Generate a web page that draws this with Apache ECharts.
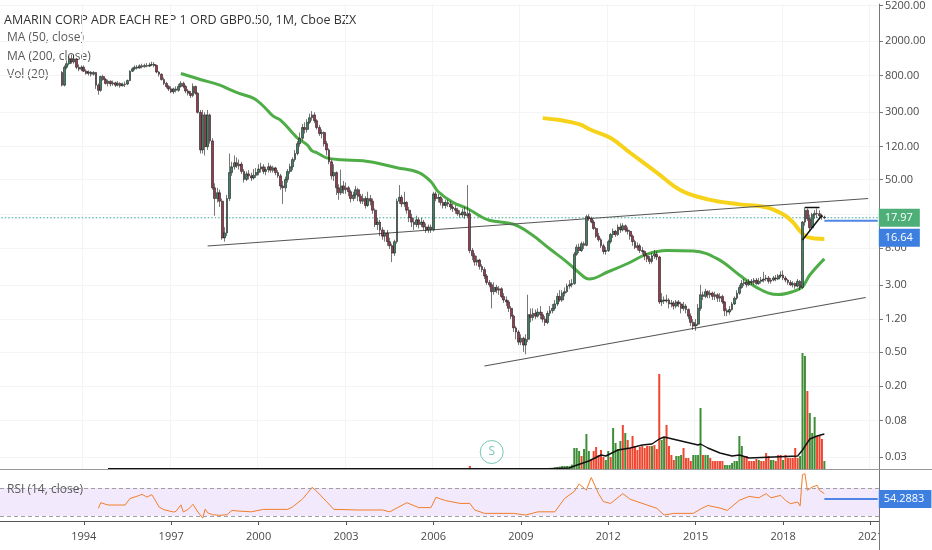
<!DOCTYPE html>
<html><head><meta charset="utf-8">
<script src="https://cdn.jsdelivr.net/npm/echarts@6/dist/echarts.min.js"></script>
<style>html,body{margin:0;padding:0;background:#fff}#c{width:932px;height:550px}</style>
</head><body><div id="c"></div>
<script>
// ---------- axis definitions ----------
const firstCategory = '1991-03';
const categoryCount = 362;            // monthly slots up to 2021-04
const candleStart = '1993-04';
const volumeStart = '2007-01';
const priceTicks = [5200, 2000, 800, 300, 120, 50, 20, 8, 3, 1.2, 0.5, 0.2, 0.08, 0.03];
const yearTicks = [1994, 1997, 2000, 2003, 2006, 2009, 2012, 2015, 2018, 2021];
const priceTop = 5396, priceBottom = 0.02194;
const rsiRange = [22.9, 97.1];

// ---------- monthly candles (Apr 1993 .. Jun 2019) ----------
const openPx = [
870,620,1000,1100,1250,1150,1250,1000,950,
1000,900,850,880,830,870,620,540,780,720,650,690,
640,660,620,650,610,630,640,700,900,960,1000,980,
1040,1010,1050,1030,1060,1080,1050,880,830,720,650,600,
560,520,560,540,600,650,600,530,500,470,600,500,
300,110,280,120,280,140,40,30,35,28,10.5,12,
30,60,70,78,72,75,62,50,58,55,52,56,
60,66,70,62,65,70,64,68,60,55,42,40,
50,62,70,85,100,130,150,200,190,230,260,280,
240,200,170,175,130,110,80,55,60,40,35,42,
38,40,36,30,33,38,32,28,30,25,30,28,
22,15,16,13,11,12,9.5,8.5,7.0,9.5,28,31,
26,27,22,18,16,15,17,15,16,14,13,14,
13,34,30,31,27,25,27,26,24,23,22,20,
19.5,21,19,20,7.5,6.5,5.5,5.8,4.9,4.5,3.8,3.2,
3.0,2.5,2.8,2.6,2.7,2.2,2.0,1.9,1.6,1.3,0.95,0.85,
0.65,0.72,0.6,0.7,1.35,1.25,1.4,1.3,1.45,1.35,1.2,1.1,
1.4,1.5,1.6,1.8,2.2,2.0,2.4,2.5,2.9,3.0,3.1,6.8,
8.2,7.5,9.0,8.6,18.5,17.5,16.0,13.5,11.0,10.0,8.5,7.3,
7.5,9.5,11.5,12.5,11.5,14,13,14.5,13,12.5,11,9.5,
8.1,8.5,7.5,7.3,6.5,6.0,5.6,6.5,6.8,6.3,1.9,2.0,
1.95,2.0,1.8,1.85,1.7,1.9,1.8,1.6,1.7,1.55,1.3,1.1,
1.0,1.05,1.6,2.3,2.2,2.5,2.3,2.4,2.2,2.3,2.1,2.2,
1.9,1.5,1.45,1.55,1.8,2.1,2.4,2.8,3.1,3.2,3.0,3.3,
3.2,3.4,3.1,3.3,3.4,3.5,3.6,3.3,3.4,3.6,3.5,3.8,
3.9,3.6,3.4,3.2,3.0,3.1,2.9,3.3,2.8,16,22,17.5,
13.8,19.5,20.2,20.0,19.0,18.3];
const closePx = [
620,1000,1100,1250,1150,1250,1000,950,1000,
900,850,880,830,870,620,540,780,720,650,690,640,
660,620,650,610,630,640,700,900,960,1000,980,1040,
1010,1050,1030,1060,1080,1050,880,830,720,650,600,560,
520,560,540,600,650,600,530,500,470,600,500,300,
110,280,120,280,140,40,30,35,28,10.5,12,30,
60,70,78,72,75,62,50,58,55,52,56,60,
66,70,62,65,70,64,68,60,55,42,40,50,
62,70,85,100,130,150,200,190,230,260,280,240,
200,170,175,130,110,80,55,60,40,35,42,38,
40,36,30,33,38,32,28,30,25,30,28,22,
15,16,13,11,12,9.5,8.5,7.0,9.5,28,31,26,
27,22,18,16,15,17,15,16,14,13,14,13,
34,30,31,27,25,27,26,24,23,22,20,19.5,
21,19,20,7.5,6.5,5.5,5.8,4.9,4.5,3.8,3.2,3.0,
2.5,2.8,2.6,2.7,2.2,2.0,1.9,1.6,1.3,0.95,0.85,0.65,
0.72,0.6,0.7,1.35,1.25,1.4,1.3,1.45,1.35,1.2,1.1,1.4,
1.5,1.6,1.8,2.2,2.0,2.4,2.5,2.9,3.0,3.1,6.8,8.2,
7.5,9.0,8.6,18.5,17.5,16.0,13.5,11.0,10.0,8.5,7.3,7.5,
9.5,11.5,12.5,11.5,14,13,14.5,13,12.5,11,9.5,8.1,
8.5,7.5,7.3,6.5,6.0,5.6,6.5,6.8,6.3,1.9,2.0,1.95,
2.0,1.8,1.85,1.7,1.9,1.8,1.6,1.7,1.55,1.3,1.1,1.0,
1.05,1.6,2.3,2.2,2.5,2.3,2.4,2.2,2.3,2.1,2.2,1.9,
1.5,1.45,1.55,1.8,2.1,2.4,2.8,3.1,3.2,3.0,3.3,3.2,
3.4,3.1,3.3,3.4,3.5,3.6,3.3,3.4,3.6,3.5,3.8,3.9,
3.6,3.4,3.2,3.0,3.1,2.9,3.3,2.8,16,22,17.5,13.8,
19.5,20.2,20.0,19.0,18.3,17.97];
const highPx = [
900,1050,1200,1350,1400,1400,1280,1080,1050,
1050,950,920,900,900,880,650,800,820,750,720,700,
700,680,690,670,660,680,720,920,1000,1050,1060,1080,
1100,1100,1120,1130,1160,1150,1070,900,850,760,680,620,
600,580,600,640,690,680,620,560,530,650,610,510,
320,320,300,320,290,150,45,40,38,30,14,33,
100,80,95,90,85,80,66,62,64,60,66,68,
75,78,75,70,78,74,72,70,64,58,48,54,
66,76,90,110,140,175,220,230,250,290,310,300,
250,215,190,180,140,115,85,75,62,44,65,48,
46,42,38,36,42,40,34,34,32,36,33,30,
23,18,17,14,13,13,10.5,9,10,30,43,33,
36,28,24,20,18,19,18,18,17,15.5,15,15,
36,36,34,32,30,29,29,28,26,25,23.5,22,
23,24,43,22,8,7,6.5,6,5.2,4.8,4.0,3.4,
3.2,3.2,3.0,2.9,2.8,2.4,2.2,2.0,1.7,1.35,1.0,0.9,
0.8,0.75,0.8,2.3,1.6,1.6,1.55,1.6,1.7,1.45,1.3,1.5,
1.7,1.8,2.0,2.4,2.6,2.6,2.8,3.1,3.4,3.5,7.2,8.8,
9.0,9.5,9.5,19.5,19.8,18.5,17.0,14.0,12.0,10.5,9.0,8.2,
10,12,13.5,13,15,15.5,15.5,15,14,13,11.5,10,
9.3,9.0,8.2,7.5,7.0,6.5,7.0,7.6,7.3,6.5,2.4,2.2,
2.3,2.1,2.0,1.95,2.0,2.0,1.9,1.9,1.8,1.6,1.4,1.2,
1.2,1.8,3.0,2.5,2.7,2.6,2.6,2.5,2.5,2.4,2.4,2.3,
1.95,1.6,1.7,1.9,2.2,2.6,3.0,3.4,3.5,3.4,3.5,3.5,
3.6,3.6,3.6,3.7,4.25,3.9,3.8,3.6,3.8,3.9,4.0,4.3,
4.4,3.8,3.5,3.4,3.3,3.2,3.5,3.4,16.5,23.8,23,19.5,
20.5,22,23,22,20,19];
const lowPx = [
600,600,950,1050,1100,1100,950,900,900,
880,820,800,780,800,560,480,520,700,630,600,600,
610,590,600,580,600,590,620,690,880,920,940,960,
970,990,1000,1010,1030,1000,850,780,700,620,570,530,
500,490,510,520,580,570,500,470,440,450,480,290,
100,100,95,110,130,38,19,27,24,10,9.5,11,
28,55,65,68,65,58,46,48,50,48,50,52,
56,60,58,56,60,60,60,56,52,38,26,36,
46,58,64,80,95,120,140,170,175,220,240,225,
190,160,150,120,95,75,50,48,33,29,33,34,
34,32,27,28,30,28,26,26,23,24,25,20,
14,13,11,10,9.5,8.5,7.8,5.5,6.5,9,26,24,
24,20,16,14,13,14,13.5,14,13,12,12,12,
12.5,28,27,25,23,23,24,22,21,20,19,18,
18,17.5,18,7,5.8,5,5,4.5,4.2,3.5,3.0,2.8,
1.6,2.3,2.4,2.3,2.1,1.85,1.7,1.45,1.2,0.85,0.7,0.6,
0.6,0.5,0.47,0.65,1.1,1.15,1.2,1.25,1.2,1.1,1.0,1.05,
1.3,1.4,1.5,1.7,1.9,1.9,2.2,2.4,2.7,2.8,3.0,6.5,
7.0,7.2,7.8,8.4,16.5,15.5,13.0,10.5,9.5,8.0,6.8,6.7,
7.2,9.0,10.5,10.8,11,12,12.5,12.2,11.5,10,8.5,7.8,
7.5,7.0,6.8,5.8,5.5,5.2,5.3,6.0,5.8,1.8,1.7,1.8,
1.85,1.6,1.65,1.55,1.6,1.65,1.4,1.5,1.4,1.2,1.0,0.9,
0.88,1.0,1.5,2.0,2.1,2.1,2.1,2.0,2.0,1.9,1.9,1.8,
1.3,1.3,1.35,1.5,1.75,2.0,2.3,2.7,2.9,2.8,2.9,3.0,
3.0,3.0,3.0,3.1,3.2,3.3,3.1,3.1,3.3,3.3,3.4,3.6,
3.4,3.2,3.0,2.9,2.8,2.7,2.8,2.6,2.7,14.5,16.5,12.7,
13.5,17.5,17.8,17.5,17,17.5];

// ---------- moving averages of price ----------
const ma50 = [['1997-05',846],['1998-01',722],['1998-09',621],['1999-01',554],['1999-05',498],['1999-11',436],
['2000-03',353],['2000-07',271],['2000-10',244],['2001-03',173],['2001-05',151],['2001-09',126],['2001-11',107],
['2002-01',102],['2002-05',89],['2002-11',84.5],['2003-08',82.4],['2004-10',68.4],['2005-07',60],['2005-12',47],
['2006-03',36],['2006-09',27.1],['2007-03',23],['2007-08',18.9],['2007-12',16.8],['2008-10',15.1],['2009-05',11.7],
['2010-01',7.8],['2010-08',5.5],['2011-03',3.7],['2011-05',3.5],['2012-01',4.25],['2012-09',5.3],['2013-05',6.8],
['2014-01',7.5],['2014-12',7.4],['2015-10',6.0],['2016-07',3.9],['2017-03',2.71],['2017-11',2.31],['2018-05',2.5],
['2018-09',2.86],['2018-12',3.9],['2019-06',6.0]];
const ma200 = [['2009-10',257],['2010-05',244],['2011-01',219],['2011-06',187],['2012-02',151],['2012-10',102],
['2013-09',60],['2014-07',37.2],['2015-06',29.4],['2016-07',25.7],['2017-06',23.8],['2018-01',19.7],['2018-05',16.0],
['2018-08',12.6],['2018-11',10.7],['2019-06',10.2]];

// ---------- drawings ----------
const upperTrend = [['1998-04', 8.46], ['2020-12', 30.1]];
const lowerTrend = [['2007-10', 0.344], ['2020-11', 2.14]];
const flagDiag = [['2018-09', 9.92], ['2019-05', 19.2]];
const flagTop = [['2018-10', 23.7], ['2019-04', 23.7]];
const lastPrice = 17.97;
const rayPrice = 16.64;
const rayStart = '2019-06';

// ---------- volume (millions, Jan 2007 .. Jun 2019) ----------
const volume = [
3,3,3,15,4,3,3,2,2,2,2,2,
2,2,2,2,2,2,2,2,2,3,3,3,
3,3,3,4,3,3,3,3,3,3,3,3,
5,5,8,10,12,15,15,15,15,22,105,105,
90,65,100,175,90,50,90,110,70,95,60,45,
90,60,205,130,100,140,220,180,145,105,165,115,
95,110,115,105,115,115,115,120,100,475,145,155,
220,115,70,45,65,65,70,105,55,55,40,70,
70,70,305,70,70,70,55,40,40,40,40,40,
20,20,20,30,40,40,165,115,65,65,40,40,
40,50,45,40,40,80,65,45,45,40,70,70,
45,70,55,55,55,105,55,65,580,565,390,280,
180,260,165,165,150,40];
const volUp = [
1,0,1,0,0,0,1,0,0,0,0,0,
0,1,0,1,0,0,0,0,0,0,0,0,
1,0,1,1,0,1,0,1,0,0,0,1,
1,1,1,1,1,1,1,1,1,1,1,1,
1,0,1,1,1,0,0,0,0,0,0,1,
1,0,1,1,1,1,0,1,0,0,0,0,
0,0,0,0,0,0,1,0,0,0,1,1,
0,0,0,0,1,1,1,0,0,0,0,1,
1,1,1,0,1,1,0,0,0,0,0,0,
1,1,1,1,1,1,1,1,0,0,0,0,
0,0,1,0,0,0,0,1,1,0,0,0,
1,0,0,0,0,0,0,1,1,1,0,1,
1,1,0,0,0,1];
const volMA = [['1994-11',2],['2009-12',2],['2010-09',5],['2010-11',15],['2011-05',40],['2011-10',70],['2011-12',65],
['2012-05',95],['2012-10',105],['2013-03',120],['2013-07',125],['2013-10',150],['2013-12',160],['2014-07',140],
['2015-02',120],['2015-03',125],['2015-06',105],['2015-11',80],['2016-04',65],['2016-07',70],['2016-11',55],
['2017-09',60],['2018-07',65],['2018-09',95],['2018-12',150],['2019-03',165],['2019-06',175]];
const volMax = 2345;
const splitEvents = [['2008-01', 85]];

// ---------- RSI (14) ----------
const rsi = [['1994-07',41],['1994-08',49],['1994-11',45.7],['1995-06',45.7],['1995-08',55],['1995-12',59.5],
['1996-01',61],['1996-03',57],['1996-05',60.5],['1996-06',55],['1996-08',43],['1996-10',39],['1997-02',35.7],
['1997-03',36.7],['1997-05',46],['1997-06',35.7],['1997-08',39.5],['1997-10',46.7],['1997-12',35.7],['1998-02',27],
['1998-03',40],['1998-04',34.7],['1998-06',31.9],['1998-09',31],['1998-12',31.9],['1999-02',38],['1999-05',37],
['1999-10',36],['2000-03',39.5],['2001-01',39.5],['2001-03',43],['2001-07',54],['2001-09',62],['2001-11',71],
['2002-01',65],['2002-05',50.5],['2002-08',39.5],['2003-06',38.6],['2004-04',38.6],['2004-07',36],['2005-02',49],
['2005-07',42],['2005-12',42],['2006-02',56.7],['2006-06',52],['2006-12',48],['2007-04',48],['2007-06',38.6],
['2007-10',33.8],['2008-10',33.8],['2009-03',31.4],['2009-08',36],['2010-03',36],['2010-07',55],['2010-11',65],
['2011-01',75.7],['2011-04',67],['2011-06',85],['2011-09',62],['2011-11',50.5],['2012-02',48],['2012-07',62],
['2012-10',54],['2013-05',45.7],['2013-09',41],['2013-12',31.4],['2014-04',33.8],['2014-12',33.8],['2015-03',40],
['2015-06',45],['2015-11',41.4],['2016-02',38],['2016-07',52.4],['2016-11',58],['2017-01',57],['2017-03',56],
['2017-06',61.9],['2017-08',56],['2017-12',59.5],['2018-02',52.4],['2018-04',47.6],['2018-07',50],['2018-08',44.3],
['2018-09',89],['2018-10',90.4],['2018-11',66.7],['2019-01',71.4],['2019-03',73.8],['2019-04',66.7],['2019-06',62]];
const rsiLast = 54.2883;
const rsiBands = [30, 70];

// ---------- build ----------
const F = '"Open Sans", "DejaVu Sans", sans-serif';
const L = v => Math.log10(v);
const [fy, fm] = firstCategory.split('-').map(Number);
const cats = [];
for (let i = 0; i < categoryCount; i++) {
  const t = (fm - 1) + i;
  cats.push((fy + Math.floor(t / 12)) + '-' + String(t % 12 + 1).padStart(2, '0'));
}
const lastCat = cats[cats.length - 1];
const cStart = cats.indexOf(candleStart);
const vStart = cats.indexOf(volumeStart);

const candleData = cats.map((c, i) => {
  const k = i - cStart;
  if (k < 0 || k >= closePx.length) return '-';
  return [L(openPx[k]), L(closePx[k]), L(lowPx[k]), L(highPx[k])];
});
const volData = cats.map((c, i) => {
  const k = i - vStart;
  if (k < 0 || k >= volume.length) return '-';
  return { value: volume[k], itemStyle: { color: volUp[k] ? '#3f8e37' : '#f0462f' } };
});
const logPairs = arr => arr.map(p => [p[0], L(p[1])]);
const isYearTick = idx => {
  const c = cats[idx];
  return c.slice(5) === '01' && yearTicks.indexOf(+c.slice(0, 4)) >= 0;
};

const chart = echarts.init(document.getElementById('c'), null, { renderer: 'canvas' });
const W = 879;
const hiddenX = gi => ({ type: 'category', gridIndex: gi, data: cats, show: false, boundaryGap: true });

const option = {
  animation: false,
  backgroundColor: '#fff',
  grid: [
    { left: 0, top: 0, width: W, height: 469 },
    { left: 0, top: 0, width: W, height: 469 },
    { left: 0, top: 469, width: W, height: 52 }
  ],
  xAxis: [
    { type: 'category', gridIndex: 0, data: cats, boundaryGap: true,
      axisLine: { show: false }, axisTick: { show: false }, axisLabel: { show: false },
      splitLine: { show: true, interval: (i) => isYearTick(i), lineStyle: { color: '#f4f4f6' } } },
    hiddenX(1),
    { type: 'category', gridIndex: 2, data: cats, boundaryGap: true, position: 'bottom',
      axisLine: { show: true, lineStyle: { color: '#555' } },
      axisTick: { show: true, interval: (i) => isYearTick(i), alignWithLabel: true, length: 4, lineStyle: { color: '#555' } },
      axisLabel: { show: true, interval: (i) => isYearTick(i), formatter: v => v.slice(0, 4),
        color: '#4a4a4a', fontSize: 11, fontFamily: F, margin: 10 } }
  ],
  yAxis: [
    { type: 'value', gridIndex: 0, position: 'right', min: L(priceBottom), max: L(priceTop),
      axisLine: { show: true, lineStyle: { color: '#777' } },
      axisTick: { show: true, length: 4, customValues: priceTicks.map(L), lineStyle: { color: '#777' } },
      axisLabel: { show: true, customValues: priceTicks.map(L), formatter: v => Math.pow(10, v).toFixed(2),
        color: '#4a4a4a', fontSize: 11, fontFamily: F, margin: 6 },
      splitLine: { show: true, lineStyle: { color: '#f4f4f6' } } },
    { type: 'value', gridIndex: 1, min: 0, max: volMax, show: false, splitLine: { show: false } },
    { type: 'value', gridIndex: 2, position: 'right', min: rsiRange[0], max: rsiRange[1],
      axisLine: { show: true, lineStyle: { color: '#777' } }, axisTick: { show: false },
      axisLabel: { show: false }, splitLine: { show: false } }
  ],
  series: [
    { type: 'bar', name: 'Vol', xAxisIndex: 1, yAxisIndex: 1, data: volData, barWidth: 2, z: 1 },
    { type: 'line', name: 'VolMA', xAxisIndex: 1, yAxisIndex: 1, data: volMA, symbol: 'none',
      lineStyle: { color: '#111', width: 1.4 }, z: 2 },
    { type: 'scatter', xAxisIndex: 1, yAxisIndex: 1, data: splitEvents, symbol: 'circle', symbolSize: 23,
      itemStyle: { color: 'rgba(255,255,255,0)', borderColor: '#56b9a8', borderWidth: 1 },
      label: { show: true, formatter: 'S', color: '#56b9a8', fontSize: 12, fontFamily: F, position: 'inside' }, z: 2 },
    { type: 'line', name: 'last', xAxisIndex: 0, yAxisIndex: 0,
      data: [[cats[0], L(lastPrice)], [lastCat, L(lastPrice)]], symbol: 'none',
      lineStyle: { color: '#3aa894', width: 1, type: [1.5, 2] }, z: 2,
      endLabel: { show: true, formatter: lastPrice.toFixed(2), backgroundColor: '#4dae78', color: '#fff',
        fontSize: 11, fontFamily: F, padding: [4, 7, 3, 6], distance: 1 } },
    { type: 'line', name: 'ray', xAxisIndex: 0, yAxisIndex: 0,
      data: [[rayStart, L(rayPrice)], [lastCat, L(rayPrice)]], symbol: 'none',
      lineStyle: { color: '#4f86e5', width: 2 }, z: 3,
      endLabel: { show: true, formatter: rayPrice.toFixed(2), backgroundColor: '#3d7fe0', color: '#fff',
        fontSize: 11, fontFamily: F, padding: [4, 7, 3, 6], distance: 1, offset: [0, 17] } },
    { type: 'line', name: 'MA200', xAxisIndex: 0, yAxisIndex: 0, data: logPairs(ma200), symbol: 'none',
      smooth: 0.4, lineStyle: { color: '#f7d21a', width: 4 }, z: 3 },
    { type: 'line', name: 'MA50', xAxisIndex: 0, yAxisIndex: 0, data: logPairs(ma50), symbol: 'none',
      smooth: 0.4, lineStyle: { color: '#4fad48', width: 3 }, z: 3 },
    { type: 'line', xAxisIndex: 0, yAxisIndex: 0, data: logPairs(upperTrend), symbol: 'none',
      lineStyle: { color: '#555', width: 1.1 }, z: 4 },
    { type: 'line', xAxisIndex: 0, yAxisIndex: 0, data: logPairs(lowerTrend), symbol: 'none',
      lineStyle: { color: '#555', width: 1.1 }, z: 4 },
    { type: 'candlestick', xAxisIndex: 0, yAxisIndex: 0, data: candleData, barWidth: 2.3, z: 5,
      itemStyle: { color: '#3f8262', color0: '#9a3a4f', borderColor: '#1c1c1c', borderColor0: '#1c1c1c', borderWidth: 0.6 } },
    { type: 'line', xAxisIndex: 0, yAxisIndex: 0, data: logPairs(flagDiag), symbol: 'none',
      lineStyle: { color: '#111', width: 1.5 }, z: 6 },
    { type: 'line', xAxisIndex: 0, yAxisIndex: 0, data: logPairs(flagTop), symbol: 'none',
      lineStyle: { color: '#111', width: 1.5 }, z: 6 },
    { type: 'line', name: 'RSI', xAxisIndex: 2, yAxisIndex: 2, data: rsi, symbol: 'none',
      lineStyle: { color: '#f27d2a', width: 1 }, z: 3,
      markArea: { silent: true, itemStyle: { color: '#f2eafc' }, data: [[{ yAxis: rsiBands[0] }, { yAxis: rsiBands[1] }]] },
      markLine: { silent: true, symbol: 'none', label: { show: false },
        lineStyle: { color: '#a0a0a0', type: [4, 3], width: 1 },
        data: rsiBands.map(v => ({ yAxis: v })) } },
    { type: 'line', xAxisIndex: 2, yAxisIndex: 2, data: [[rayStart, rsiLast], [lastCat, rsiLast]], symbol: 'none',
      lineStyle: { color: '#4f86e5', width: 2 }, z: 4,
      endLabel: { show: true, formatter: String(rsiLast), backgroundColor: '#3d7fe0', color: '#fff',
        fontSize: 11, fontFamily: F, padding: [4, 7, 3, 5], distance: 1 } }
  ],
  graphic: [
    { type: 'text', left: 4, top: 14, z: 0, style: { text: 'AMARIN CORP ADR EACH REP 1 ORD GBP0.50, 1M, Cboe BZX', fill: '#333', font: '12.5px ' + F } },
    { type: 'text', left: 7, top: 32, z: 0, style: { text: 'MA (50, close)', fill: '#5a5a5a', font: '12px ' + F } },
    { type: 'text', left: 7, top: 50.5, z: 0, style: { text: 'MA (200, close)', fill: '#5a5a5a', font: '12px ' + F } },
    { type: 'text', left: 7, top: 69, z: 0, style: { text: 'Vol (20)', fill: '#5a5a5a', font: '12px ' + F } },
    { type: 'text', left: 7, top: 484, z: 10, style: { text: 'RSI (14, close)', fill: '#5a5a5a', font: '12px ' + F } },
    { type: 'line', z: 50, shape: { x1: 0, y1: 469.5, x2: 932, y2: 469.5 }, style: { stroke: '#999', lineWidth: 1 } },
    { type: 'rect', z: 100, shape: { x: 880, y: 522, width: 52, height: 28 }, style: { fill: '#fff' } },
    { type: 'line', z: 101, shape: { x1: 879.5, y1: 521, x2: 879.5, y2: 550 }, style: { stroke: '#777', lineWidth: 1 } }
  ]
};
chart.setOption(option);
</script>
</body></html>
